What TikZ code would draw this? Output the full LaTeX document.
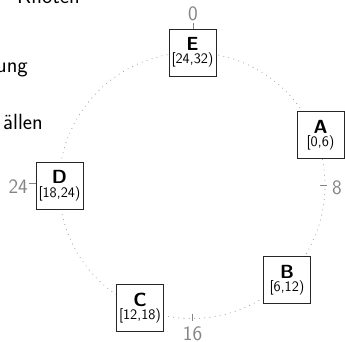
\documentclass[tikz,border=0pt]{standalone}
\usepackage{fontspec}
\definecolor{ringgray}{HTML}{9C9C9C}
\definecolor{markgray}{HTML}{858585}
\tikzset{
  keybox/.style={draw=black!85, fill=white, line width=0.9pt,
    minimum width=47pt, minimum height=47pt, inner sep=0pt, align=center,
    font=\sffamily\fontsize{19}{13.5}\selectfont},
  ring/.style={draw=ringgray, line width=1.1pt, line cap=round,
    dash pattern=on 0pt off 5.2pt},
  tickmark/.style={draw=markgray, line width=0.8pt},
  poslabel/.style={text=markgray, inner sep=0pt, font=\sffamily\fontsize{20.5}{20}\selectfont},
  slidetext/.style={inner sep=0pt, font=\sffamily\fontsize{22}{22}\selectfont}
}
\newcommand{\rng}[1]{{\fontsize{14.5}{13.5}\selectfont #1}}
\begin{document}
\begin{tikzpicture}[x=1pt,y=-1pt]
  \useasboundingbox (0,0) rectangle (345,342);

  % list text of the slide (left column)
  \node[slidetext, anchor=base east] (t1) at (80,3.5) {Knoten};
  \node[slidetext, anchor=base east] (t2) at (28,73) {ung};
  \node[slidetext, anchor=base east] (t3) at (43,129) {ällen};

  % identifier ring
  \coordinate (ctr) at (192,185.5);
  \draw[ring] (ctr) circle[radius=133pt];

  % ring positions 0, 8, 16, 24
  \draw[tickmark] (193,23.5) -- (193,29);
  \node[poslabel, anchor=base] (p0) at (193,21) {0};
  \draw[tickmark] (320,185) -- (327,185);
  \node[poslabel, anchor=base west] (p8) at (332,194) {8};
  \draw[tickmark] (192.7,314) -- (192.7,320.5);
  \node[poslabel, anchor=base] (p16) at (192.5,340.5) {16};
  \draw[tickmark] (29,183) -- (35.5,183);
  \node[poslabel, anchor=base east] (p24) at (28,193) {24};

  % nodes with their key ranges
  \node[keybox] (E) at (192.5,52.5) {\textbf{E}\\\rng{[24,32)}};
  \node[keybox] (A) at (320.5,135)  {\textbf{A}\\\rng{[0,6)}};
  \node[keybox] (B) at (287,280)    {\textbf{B}\\\rng{[6,12)}};
  \node[keybox] (C) at (140,308)    {\textbf{C}\\\rng{[12,18)}};
  \node[keybox] (D) at (59.5,185.5) {\textbf{D}\\\rng{[18,24)}};
\end{tikzpicture}
\end{document}
